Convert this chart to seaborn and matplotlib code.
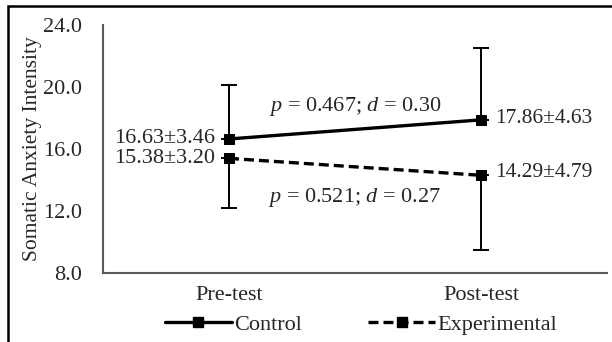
import matplotlib
matplotlib.use("Agg")
import matplotlib.pyplot as plt
import seaborn as sns
import pandas as pd
from matplotlib.patches import Rectangle
from matplotlib.lines import Line2D

# ---- data ----
phases = ["Pre-test", "Post-test"]
groups = ["Control", "Experimental"]
control_mean = [16.63, 17.86]
control_sd = [3.46, 4.63]
exp_mean = [15.38, 14.29]
exp_sd = [3.20, 4.79]
stats_control = "0.467", "0.30"
stats_exp = "0.521", "0.27"
yticks = [8.0, 12.0, 16.0, 20.0, 24.0]

sns.set_theme(style="white")
plt.rcParams['font.family'] = ['Liberation Serif', 'DejaVu Serif']
plt.rcParams['mathtext.fontset'] = 'custom'
plt.rcParams['mathtext.rm'] = 'Liberation Serif'
plt.rcParams['mathtext.it'] = 'Liberation Serif:italic'

df = pd.DataFrame({
    "x": [0, 1, 0, 1],
    "mean": control_mean + exp_mean,
    "group": [groups[0]] * 2 + [groups[1]] * 2,
})

fig = plt.figure(figsize=(6.12, 3.42), dpi=100)
ax = fig.add_axes([103 / 612, 1 - 273 / 342, 504 / 612, 248.5 / 342])

sns.lineplot(data=df, x="x", y="mean", style="group", hue="group",
             palette=["black", "black"], markers=["s", "s"],
             dashes=[(None, None), (3, 1.5)], markersize=7.5, linewidth=2.4,
             markeredgecolor="black", ax=ax, legend=False, zorder=3)

# error bars: control upward, experimental downward
ax.errorbar([0, 1], control_mean, yerr=[[0, 0], control_sd], fmt="none",
            ecolor="black", elinewidth=1.4, capsize=6, capthick=1.4, zorder=2)
ax.errorbar([0, 1], exp_mean, yerr=[exp_sd, [0, 0]], fmt="none",
            ecolor="black", elinewidth=1.4, capsize=6, capthick=1.4, zorder=2)

fs = 16
for i in range(2):
    lab_c = f"{control_mean[i]:.2f}±{control_sd[i]:.2f}"
    lab_e = f"{exp_mean[i]:.2f}±{exp_sd[i]:.2f}"
    if i == 0:
        ax.annotate(lab_c, (0, control_mean[0]), xytext=(-10, 0), textcoords="offset points",
                    ha="right", va="center", fontsize=fs)
        ax.annotate(lab_e, (0, exp_mean[0]), xytext=(-10, 0), textcoords="offset points",
                    ha="right", va="center", fontsize=fs)
    else:
        ax.annotate(lab_c, (1, control_mean[1]), xytext=(10, 1), textcoords="offset points",
                    ha="left", va="center", fontsize=15.5)
        ax.annotate(lab_e, (1, exp_mean[1]), xytext=(10, 2), textcoords="offset points",
                    ha="left", va="center", fontsize=15.5)

ax.text(0.5, 18.75, rf"$\mathit{{p}}$ = {stats_control[0]}; $\mathit{{d}}$ = {stats_control[1]}",
        ha="center", va="center", fontsize=fs)
ax.text(0.5, 12.85, rf"$\mathit{{p}}$ = {stats_exp[0]}; $\mathit{{d}}$ = {stats_exp[1]}",
        ha="center", va="center", fontsize=fs)

ax.set_xlim(-0.5, 1.5)
ax.set_ylim(8, 24)
ax.set_yticks(yticks)
ax.set_yticklabels([f"{v:.1f}" for v in yticks], fontsize=fs)
ax.set_xticks([-0.5, 0.5, 1.5])
ax.set_xticklabels([])
ax.set_xticks([0, 1], minor=True)
ax.set_xticklabels(phases, minor=True, fontsize=fs)
ax.tick_params(axis="x", which="minor", length=0, pad=9)
ax.tick_params(axis="x", which="major", length=5, width=1.2, color="#595959", direction="out")
ax.tick_params(axis="y", length=5, width=1.2, color="#595959", direction="out", pad=10)
ax.set_xlabel("")
ax.set_ylabel("Somatic Anxiety Intensity", fontsize=15.5, labelpad=1)
for s in ["top", "right"]:
    ax.spines[s].set_visible(False)
for s in ["left", "bottom"]:
    ax.spines[s].set_color("#595959")
    ax.spines[s].set_linewidth(1.5)

# legend
handles = [
    Line2D([], [], color="black", lw=2.4, marker="s", markersize=7.5),
    Line2D([], [], color="black", lw=2.4, ls=(0, (3, 1.5)), marker="s", markersize=7.5),
]
fig.legend(handles, groups, loc="center", bbox_to_anchor=(0.59, 0.05), ncol=2,
           frameon=False, fontsize=fs, handlelength=3.0, handletextpad=0.1,
           columnspacing=3.0, borderaxespad=0)

# figure border (left and top visible)
fig.patches.append(Rectangle((8 / 612, -0.05), 1.2, 1 - 6 / 342 + 0.05,
                             transform=fig.transFigure, fill=False,
                             edgecolor="black", linewidth=1.8))

fig.savefig("out.png", dpi=100)
